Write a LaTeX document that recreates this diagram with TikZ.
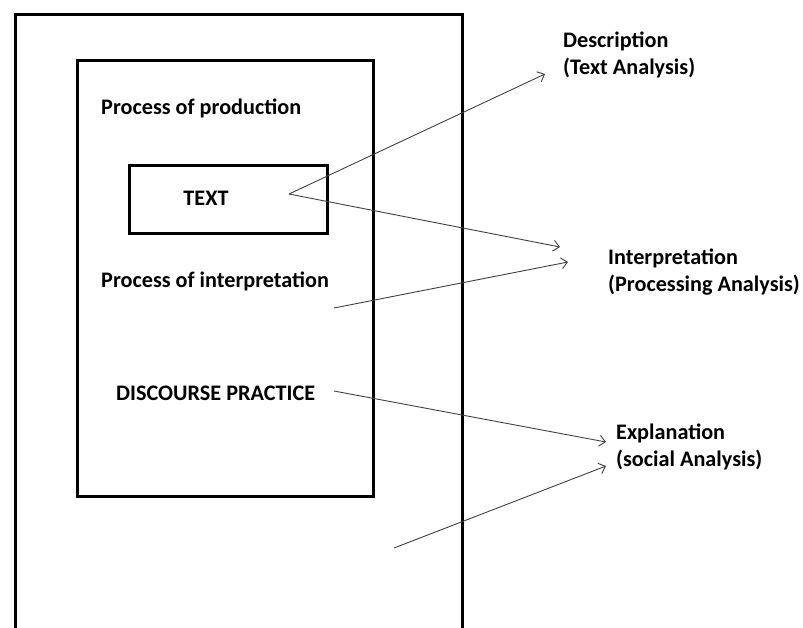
\documentclass[tikz,border=0pt]{standalone}
\usepackage{fontspec}
\setmainfont{Carlito}
\usetikzlibrary{arrows.meta}
\begin{document}
\begin{tikzpicture}[x=1pt,y=-1pt,
  frame/.style={draw=black,line width=3pt},
  lbl/.style={font=\bfseries\fontsize{22.2}{27}\selectfont,inner sep=0pt,anchor=west},
  rlbl/.style={lbl,align=left},
  conn/.style={draw=black!75,line width=0.9pt,-{Straight Barb[length=6pt,width=11pt]}}]
\useasboundingbox (0,0) rectangle (803,627);
\begin{scope}
\clip (0,0) rectangle (803,627);
\draw[frame] (15,650) -- (15,14) -- (462,14) -- (462,650);
\end{scope}
\node[frame,minimum width=296pt,minimum height=436pt,inner sep=0pt,anchor=north west] (inner) at (76,59) {};
\node[frame,minimum width=198pt,minimum height=68pt,inner sep=0pt,anchor=north west] (textbox) at (128,164) {};
\node[lbl,anchor=center] (text) at (206,198) {TEXT};
\node[lbl] (prod) at (101,108) {Process of production};
\node[lbl] (interp) at (101,281) {Process of interpretation};
\node[lbl] (dp) at (116,393) {DISCOURSE PRACTICE};
\node[rlbl] (desc) at (563,55) {Description\\(Text Analysis)};
\node[rlbl] (interpr) at (608,272) {Interpretation\\(Processing Analysis)};
\node[rlbl] (expl) at (616,447) {Explanation\\(social Analysis)};
\coordinate (apex) at (289,194);
\coordinate (s3) at (334,308);
\coordinate (s4) at (334,391);
\coordinate (s5) at (394,548);
\coordinate (t1) at (545,74);
\coordinate (t2) at (560,247);
\coordinate (t3) at (568,262);
\coordinate (t4) at (606,442);
\coordinate (t5) at (606,466);
\draw[conn] (apex) -- (t1);
\draw[conn] (apex) -- (t2);
\draw[conn] (s3) -- (t3);
\draw[conn] (s4) -- (t4);
\draw[conn] (s5) -- (t5);
\end{tikzpicture}
\end{document}
